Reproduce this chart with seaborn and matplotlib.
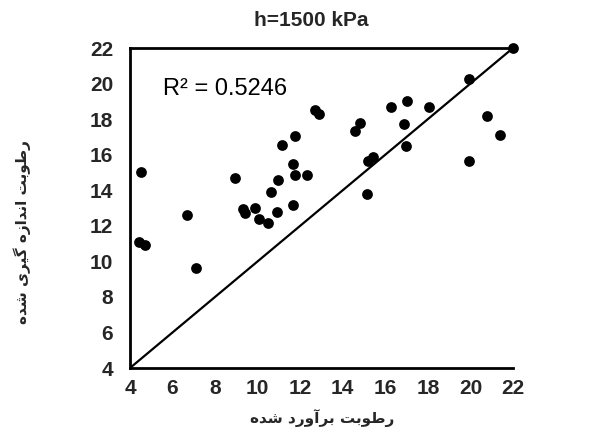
import numpy as np
import pandas as pd
import matplotlib
matplotlib.use("Agg")
import matplotlib.pyplot as plt
import seaborn as sns

# Data
estimated = [4.42, 4.72, 4.52, 6.69, 7.09, 8.93, 9.31, 9.40, 9.86, 10.06,
             10.47, 10.64, 10.90, 10.95, 11.13, 11.64, 11.68, 11.75, 11.77, 12.30,
             12.68, 12.87, 14.58, 14.83, 15.13, 15.20, 15.44, 16.26, 16.87, 16.95,
             17.00, 18.07, 19.92, 19.92, 20.80, 21.40, 22.00]
measured = [11.11, 10.94, 15.00, 12.59, 9.65, 14.70, 12.94, 12.73, 12.98, 12.40,
            12.15, 13.88, 12.78, 14.60, 16.55, 13.15, 15.46, 14.86, 17.06, 14.86,
            18.53, 18.31, 17.31, 17.80, 13.77, 15.65, 15.86, 18.67, 17.73, 16.48,
            19.02, 18.67, 20.23, 15.65, 18.20, 17.10, 22.00]
axis_ticks = [4, 6, 8, 10, 12, 14, 16, 18, 20, 22]

title = "h=1500 kPa"
r2_label = "R² = 0.5246"
xlabel = "رطوبت برآورد شده"
ylabel = "رطوبت اندازه گیری شده"

# --- minimal Persian shaping (matplotlib draws no joined Arabic script) ---
forms = {
    "ا": ("\uFE8D", "\uFE8E", None, None),
    "آ": ("\uFE81", "\uFE82", None, None),
    "ب": ("\uFE8F", "\uFE90", "\uFE91", "\uFE92"),
    "ت": ("\uFE95", "\uFE96", "\uFE97", "\uFE98"),
    "د": ("\uFEA9", "\uFEAA", None, None),
    "ر": ("\uFEAD", "\uFEAE", None, None),
    "ز": ("\uFEAF", "\uFEB0", None, None),
    "ش": ("\uFEB5", "\uFEB6", "\uFEB7", "\uFEB8"),
    "ط": ("\uFEC1", "\uFEC2", "\uFEC3", "\uFEC4"),
    "ن": ("\uFEE5", "\uFEE6", "\uFEE7", "\uFEE8"),
    "ه": ("\uFEE9", "\uFEEA", "\uFEEB", "\uFEEC"),
    "و": ("\uFEED", "\uFEEE", None, None),
    "گ": ("\uFB92", "\uFB93", "\uFB94", "\uFB95"),
    "ی": ("\uFBFC", "\uFBFD", "\uFBFE", "\uFBFF"),
}


def dual(c):
    return c in forms and forms[c][2] is not None


def shape(text):
    out = []
    for i, c in enumerate(text):
        if c not in forms:
            out.append(c)
            continue
        prev_j = i > 0 and dual(text[i - 1])
        next_j = dual(c) and i + 1 < len(text) and text[i + 1] in forms
        iso, fin, ini, med = forms[c]
        if prev_j and next_j:
            out.append(med)
        elif prev_j:
            out.append(fin)
        elif next_j:
            out.append(ini)
        else:
            out.append(iso)
    return "".join(out)[::-1]


sns.set_style("white")
plt.rcParams["font.family"] = ["Liberation Sans", "DejaVu Sans"]

fig = plt.figure(figsize=(5.9, 4.38), dpi=100)
ax = fig.add_axes([0.2203, 0.1598, 0.6492, 0.7306])

diag = [axis_ticks[0], axis_ticks[-1]]
sns.lineplot(x=diag, y=diag, ax=ax, color="black", linewidth=1.6)
sns.scatterplot(x=estimated, y=measured, ax=ax, color="black", s=60,
                edgecolor="black", linewidth=0, zorder=3, clip_on=False)

ax.set_xlim(axis_ticks[0], axis_ticks[-1])
ax.set_ylim(axis_ticks[0], axis_ticks[-1])
ax.set_xticks(axis_ticks)
ax.set_yticks(axis_ticks)
ax.tick_params(axis="both", direction="in", length=4, width=1.2, color="black",
               labelsize=15)
ax.tick_params(axis="y", pad=12)
ax.tick_params(axis="x", pad=8)
for lab in ax.get_xticklabels() + ax.get_yticklabels():
    lab.set_fontweight("bold")

for side in ["left", "bottom", "top"]:
    ax.spines[side].set_color("black")
    ax.spines[side].set_linewidth(2)
ax.spines["right"].set_visible(False)

ax.text(5.55, 19.7, r2_label, fontsize=17, color="black", va="center")
fig.text(0.527, 0.954, title, ha="center", va="center", fontsize=15,
         fontweight="bold")
fig.text(322 / 590, 0.045, shape(xlabel), ha="center", va="center",
         fontsize=11, fontweight="bold", family=["DejaVu Sans"])
fig.text(22 / 590, 0.47, shape(ylabel), ha="center", va="center",
         rotation=90, fontsize=11, fontweight="bold", family=["DejaVu Sans"])

fig.savefig("out.png", dpi=100)
